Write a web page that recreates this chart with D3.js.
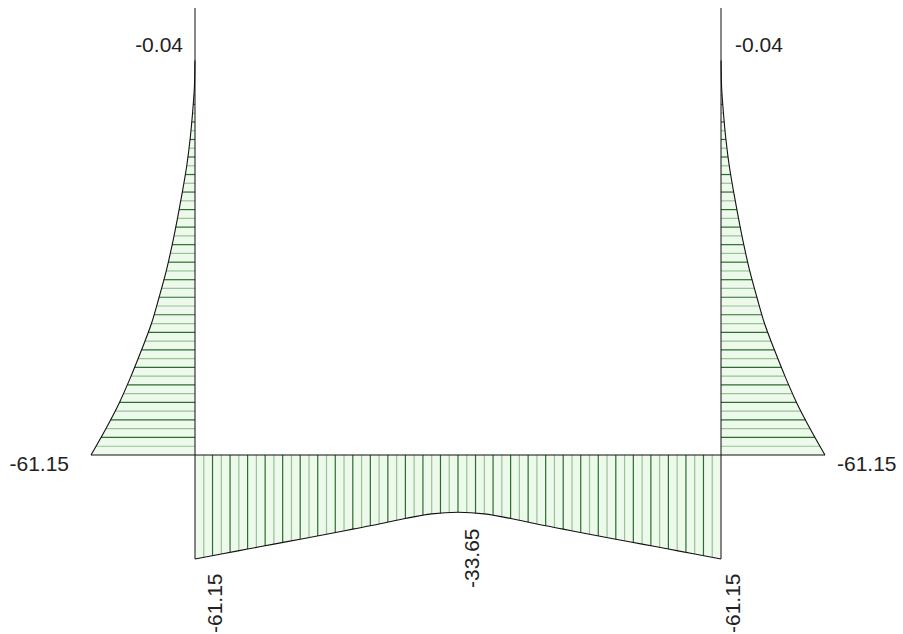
<!DOCTYPE html>
<html>
<head>
<meta charset="utf-8">
<script src="https://cdn.jsdelivr.net/npm/d3@7"></script>
<style>
  html, body { margin: 0; padding: 0; background: #ffffff; }
  svg { display: block; }
  text { font-family: "Liberation Sans", Arial, sans-serif; font-size: 21px; fill: #222; }
</style>
</head>
<body>
<svg id="chart" width="903" height="634"></svg>
<script>
// ---- Data (model units: metres, kN·m) ----
const beamSpan = 10;            // m
const columnHeight = 8.5;       // m (structural line)
const columnStations = [0, 0.5, 1.0, 1.5, 2.0, 2.5, 3.0, 3.5, 4.0, 4.5, 5.0, 5.5, 6.0, 6.5, 7.0, 7.5];
const leftColumnMoments = [61.15, 52.4, 44.4, 37.6, 31.4, 25.6, 21.1, 16.9, 13.4, 10.3, 7.45, 4.85, 2.9, 1.45, 0.35, 0.04];
const rightColumnMoments = [61.15, 52.4, 44.4, 37.6, 31.4, 25.6, 21.1, 16.9, 13.4, 10.3, 7.45, 4.85, 2.9, 1.45, 0.35, 0.04];
const beamStations = [0, 0.5, 1, 1.5, 2, 2.5, 3, 3.5, 4, 4.5, 5, 5.5, 6, 6.5, 7, 7.5, 8, 8.5, 9, 9.5, 10];
const beamMoments = [61.15, 58.2, 55.3, 52.4, 49.5, 46.6, 43.6, 40.6, 37.3, 34.6, 33.65, 34.6, 37.3, 40.6, 43.6, 46.6, 49.5, 52.4, 55.3, 58.2, 61.15];
const labels = [
  { text: "-0.04", where: "leftTop" },
  { text: "-0.04", where: "rightTop" },
  { text: "-61.15", where: "leftBase" },
  { text: "-61.15", where: "rightBase" },
  { text: "-61.15", where: "beamLeft" },
  { text: "-33.65", where: "beamMid" },
  { text: "-61.15", where: "beamRight" }
];
const hatchStep = 1 / 6; // m

// ---- Scales ----
const svg = d3.select("#chart");
const x = d3.scaleLinear().domain([0, beamSpan]).range([195, 721]);
const y = d3.scaleLinear().domain([0, columnHeight]).range([455, 8]);
const m = d3.scaleLinear().domain([0, 61.15]).range([0, 104]);

const fillColor = "#edf9ea";
const darkHatch = "#2c6d31";
const lightHatch = "#98c299";

const leftInterp = d3.scaleLinear().domain(columnStations).range(leftColumnMoments);
const rightInterp = d3.scaleLinear().domain(columnStations).range(rightColumnMoments);
const beamInterp = d3.scaleLinear().domain(beamStations).range(beamMoments);

const colTop = columnStations[columnStations.length - 1];

// ---- Column diagrams ----
function columnDiagram(x0, dir, interp, moments) {
  const pts = columnStations.map((s, i) => [x(x0) + dir * m(moments[i]), y(s)]);
  const area = [[x(x0), y(0)], ...pts, [x(x0), y(colTop)]];
  svg.append("path")
    .attr("d", d3.line()(area) + "Z")
    .attr("fill", fillColor).attr("stroke", "none");
  const n = Math.round(colTop / hatchStep);
  for (let k = 1; k < n; k++) {
    const s = k * hatchStep;
    svg.append("line")
      .attr("x1", x(x0)).attr("x2", x(x0) + dir * m(interp(s)))
      .attr("y1", y(s)).attr("y2", y(s))
      .attr("stroke", k % 2 ? lightHatch : darkHatch)
      .attr("stroke-width", 1.2);
  }
  svg.append("path")
    .attr("d", d3.line().curve(d3.curveMonotoneY)(pts))
    .attr("fill", "none").attr("stroke", "#111").attr("stroke-width", 1.1);
  svg.append("line")
    .attr("x1", x(x0)).attr("x2", x(x0) + dir * m(moments[0]))
    .attr("y1", y(0)).attr("y2", y(0))
    .attr("stroke", "#111").attr("stroke-width", 1);
}
columnDiagram(0, -1, leftInterp, leftColumnMoments);
columnDiagram(beamSpan, 1, rightInterp, rightColumnMoments);

// ---- Beam diagram (drawn below the beam) ----
const beamPts = beamStations.map((s, i) => [x(s), y(0) + m(beamMoments[i])]);
svg.append("path")
  .attr("d", d3.line().curve(d3.curveMonotoneX)([[x(0), y(0)], ...beamPts, [x(beamSpan), y(0)]].slice(1, -1)) )
  .attr("fill", "none");
svg.append("path")
  .attr("d", d3.line()([[x(0), y(0)], ...beamPts, [x(beamSpan), y(0)]]) + "Z")
  .attr("fill", fillColor);
const nb = Math.round(beamSpan / hatchStep);
for (let k = 1; k < nb; k++) {
  const s = k * hatchStep;
  svg.append("line")
    .attr("x1", x(s)).attr("x2", x(s))
    .attr("y1", y(0)).attr("y2", y(0) + m(beamInterp(s)))
    .attr("stroke", k % 2 ? lightHatch : darkHatch)
    .attr("stroke-width", 1.2);
}
svg.append("path")
  .attr("d", d3.line().curve(d3.curveMonotoneX)(beamPts))
  .attr("fill", "none").attr("stroke", "#111").attr("stroke-width", 1.1);

// ---- Frame lines ----
svg.append("line").attr("x1", x(0)).attr("x2", x(0)).attr("y1", y(columnHeight)).attr("y2", y(0)).attr("stroke", "#111").attr("stroke-width", 1);
svg.append("line").attr("x1", x(beamSpan)).attr("x2", x(beamSpan)).attr("y1", y(columnHeight)).attr("y2", y(0)).attr("stroke", "#111").attr("stroke-width", 1);
svg.append("line").attr("x1", x(0)).attr("x2", x(beamSpan)).attr("y1", y(0)).attr("y2", y(0)).attr("stroke", "#111").attr("stroke-width", 1);
svg.append("line").attr("x1", x(0)).attr("x2", x(0)).attr("y1", y(0)).attr("y2", y(0) + m(beamMoments[0])).attr("stroke", "#111");
svg.append("line").attr("x1", x(beamSpan)).attr("x2", x(beamSpan)).attr("y1", y(0)).attr("y2", y(0) + m(beamMoments[beamMoments.length - 1])).attr("stroke", "#111");

// ---- Labels ----
const mid = beamStations[Math.floor(beamStations.length / 2)];
const place = {
  leftTop:   { tx: x(0) - 12, ty: y(colTop) - 9, anchor: "end", rot: 0 },
  rightTop:  { tx: x(beamSpan) + 14, ty: y(colTop) - 9, anchor: "start", rot: 0 },
  leftBase:  { tx: x(0) - m(leftColumnMoments[0]) - 22, ty: y(0) + 16, anchor: "end", rot: 0 },
  rightBase: { tx: x(beamSpan) + m(rightColumnMoments[0]) + 12, ty: y(0) + 16, anchor: "start", rot: 0 },
  beamLeft:  { tx: x(0) + 27, ty: 633, anchor: "start", rot: -90 },
  beamMid:   { tx: x(mid) + 21, ty: 588, anchor: "start", rot: -90 },
  beamRight: { tx: x(beamSpan) + 19, ty: 633, anchor: "start", rot: -90 }
};
labels.forEach(l => {
  const p = place[l.where];
  svg.append("text")
    .attr("transform", `translate(${p.tx},${p.ty}) rotate(${p.rot})`)
    .attr("text-anchor", p.anchor)
    .text(l.text);
});
</script>
</body>
</html>
